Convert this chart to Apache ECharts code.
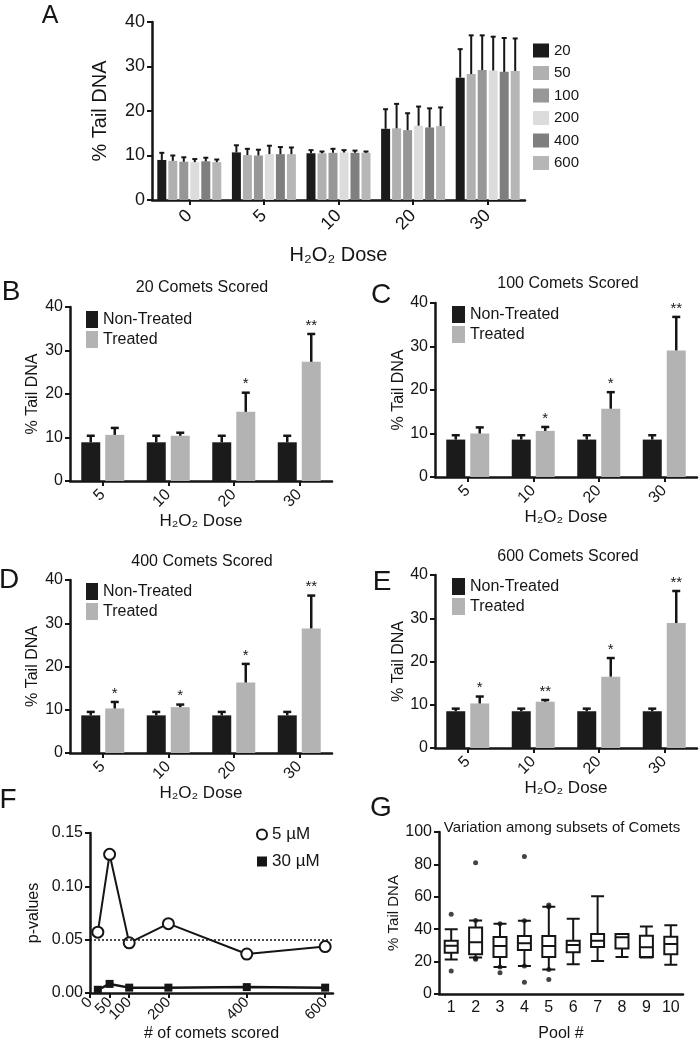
<!DOCTYPE html>
<html>
<head>
<meta charset="utf-8">
<script src="https://cdn.jsdelivr.net/npm/echarts@6/dist/echarts.min.js"></script>
<style>
html,body{margin:0;padding:0;background:#fff;}
#c{width:700px;height:1043px;}
</style>
</head>
<body>
<div id="c"></div>
<script>
// ---------------- DATA ----------------
// Panel A
const aDoses = ['0', '5', '10', '20', '30'];
const aCounts = ['20', '50', '100', '200', '400', '600'];
// mean % tail DNA, one row per number of comets scored (20,50,100,200,400,600)
const aMean = [
  [9.0, 10.7, 10.5, 16.0, 27.5],
  [8.8, 10.1, 10.5, 16.1, 28.3],
  [8.6, 10.0, 10.6, 15.7, 29.2],
  [8.5, 10.3, 10.7, 16.7, 29.1],
  [8.7, 10.3, 10.6, 16.3, 28.8],
  [8.5, 10.3, 10.6, 16.6, 29.0]
];
// top of error bar (mean + SD)
const aTop = [
  [10.6, 12.3, 11.2, 20.4, 33.9],
  [10.0, 11.5, 10.9, 21.6, 37.0],
  [9.6, 11.3, 11.5, 19.5, 37.0],
  [9.2, 12.2, 11.2, 21.0, 36.7],
  [9.5, 11.9, 11.1, 20.6, 36.4],
  [9.1, 11.8, 10.9, 20.8, 36.3]
];

// Panels B-E
const doses = ['5', '10', '20', '30'];
const bNt = [8.9, 8.9, 8.9, 8.9];
const bNtTop = [10.4, 10.4, 10.4, 10.4];
const bTr = [10.6, 10.4, 15.9, 27.4];
const bTrTop = [12.2, 11.1, 20.3, 33.8];
const bStars = ['', '', '*', '**'];

const cNt = [8.6, 8.6, 8.6, 8.6];
const cNtTop = [9.6, 9.6, 9.6, 9.6];
const cTr = [10.0, 10.6, 15.7, 29.1];
const cTrTop = [11.4, 11.5, 19.5, 36.8];
const cStars = ['', '*', '*', '**'];

const dNt = [8.7, 8.7, 8.7, 8.7];
const dNtTop = [9.5, 9.5, 9.5, 9.5];
const dTr = [10.3, 10.6, 16.3, 28.8];
const dTrTop = [11.8, 11.2, 20.6, 36.4];
const dStars = ['*', '*', '*', '**'];

const eNt = [8.5, 8.5, 8.5, 8.5];
const eNtTop = [9.1, 9.1, 9.1, 9.1];
const eTr = [10.3, 10.7, 16.5, 28.9];
const eTrTop = [11.9, 11.1, 20.8, 36.3];
const eStars = ['*', '**', '*', '**'];

// Panel F
const fCounts = [20, 50, 100, 200, 400, 600];
const fTicks = [0, 50, 100, 200, 400, 600];
const f5uM = [0.057, 0.130, 0.047, 0.065, 0.0365, 0.0435];
const f30uM = [0.003, 0.0085, 0.005, 0.005, 0.0055, 0.005];
const fThreshold = 0.05;

// Panel G
const gPools = ['1', '2', '3', '4', '5', '6', '7', '8', '9', '10'];
const gMin = [21.3, 22.5, 16.7, 17.3, 15.2, 18.3, 20.4, 22.9, 22.5, 18.1];
const gQ1  = [25.4, 24.6, 22.9, 27.1, 22.9, 25.8, 29.0, 28.1, 22.9, 24.6];
const gMed = [29.8, 31.9, 29.6, 31.3, 29.6, 30.2, 32.9, 35.0, 28.8, 30.8];
const gQ3  = [32.9, 41.0, 35.2, 35.8, 35.8, 32.9, 37.1, 37.1, 36.0, 35.4];
const gMax = [40.0, 45.4, 43.3, 45.2, 53.8, 46.5, 60.4, 37.1, 41.7, 42.5];
const gOutPool = [0, 0, 1, 1, 1, 1, 2, 2, 2, 3, 3, 3, 3, 4, 4, 4, 4];
const gOutVal  = [49.2, 14.2, 81.0, 45.4, 21.5, 22.0, 43.3, 16.7, 13.1, 84.8, 45.2, 17.3, 7.3, 55.0, 53.8, 15.2, 9.0];

// ---------------- STYLE ----------------
const FONT = '"Liberation Sans", Arial, Helvetica, sans-serif';
const INK = '#151515';
const aColors = ['#1b1b1b', '#b0b0b0', '#979797', '#dcdcdc', '#7f7f7f', '#b6b6b6'];
const NT_COLOR = '#1b1b1b';
const TR_COLOR = '#b3b3b3';
const DOSE_NAME = 'H\u2082O\u2082 Dose';

const axisLine = {show: true, onZero: false, lineStyle: {color: INK, width: 2.5}};
const axisTick = {show: true, length: 5, lineStyle: {color: INK, width: 2}};

function yAxis(gi, max, interval, fs, name, nameGap, nameFs, fmt) {
  return {
    type: 'value', gridIndex: gi, min: 0, max: max, interval: interval,
    axisLine: axisLine, axisTick: axisTick, splitLine: {show: false},
    axisLabel: {color: INK, fontSize: fs, fontFamily: FONT, margin: 7, formatter: fmt},
    name: name, nameLocation: 'middle', nameGap: nameGap,
    nameTextStyle: {color: INK, fontSize: nameFs, fontFamily: FONT}
  };
}
function xCat(gi, cats, fs, rotate, margin, name, nameGap, nameFs, showTick) {
  return {
    type: 'category', gridIndex: gi, data: cats,
    axisLine: axisLine,
    axisTick: showTick ? Object.assign({alignWithLabel: true}, axisTick) : {show: false},
    axisLabel: {color: INK, fontSize: fs, fontFamily: FONT, rotate: rotate, margin: margin},
    name: name, nameLocation: 'middle', nameGap: nameGap,
    nameTextStyle: {color: INK, fontSize: nameFs, fontFamily: FONT}
  };
}

// error bar series (upper SD only, GraphPad style), aligned to the grouped bars
function errSeries(axisIdx, means, tops, i, n, bw, gap, capW, lw, stars) {
  return {
    type: 'custom', xAxisIndex: axisIdx, yAxisIndex: axisIdx, z: 5, silent: true,
    data: means.map((m, k) => [k, m, tops[k]]),
    renderItem: function (params, api) {
      const k = api.value(0);
      const base = api.coord([k, api.value(1)]);
      const top = api.coord([k, api.value(2)]);
      const x = base[0] + (i - (n - 1) / 2) * (bw + gap);
      const children = [
        {type: 'line', shape: {x1: x, y1: base[1], x2: x, y2: top[1]}, style: {stroke: INK, lineWidth: lw}},
        {type: 'line', shape: {x1: x - capW / 2, y1: top[1], x2: x + capW / 2, y2: top[1]}, style: {stroke: INK, lineWidth: lw}}
      ];
      const s = stars ? stars[params.dataIndex] : '';
      if (s) {
        children.push({type: 'text', style: {text: s, x: x, y: top[1] - 1, align: 'center', verticalAlign: 'bottom',
          fontSize: 15, fontFamily: FONT, fill: INK}});
      }
      return {type: 'group', children: children};
    }
  };
}

const series = [];
// Panel A bars
const A_BW = 9, A_GAP = 2;
aCounts.forEach((c, i) => {
  series.push({
    type: 'bar', name: c, xAxisIndex: 0, yAxisIndex: 0, data: aMean[i],
    barWidth: A_BW, barGap: (A_GAP / A_BW * 100) + '%',
    itemStyle: {color: aColors[i]}, silent: true
  });
});
aCounts.forEach((c, i) => {
  series.push(errSeries(0, aMean[i], aTop[i], i, 6, A_BW, A_GAP, 5, 2, null));
});

// Panels B-E
const P_BW = 19, P_GAP = 5;
function panelSeries(ax, nt, ntTop, tr, trTop, stars) {
  series.push({type: 'bar', name: 'Non-Treated', xAxisIndex: ax, yAxisIndex: ax, data: nt,
    barWidth: P_BW, barGap: (P_GAP / P_BW * 100) + '%', itemStyle: {color: NT_COLOR}, silent: true});
  series.push({type: 'bar', name: 'Treated', xAxisIndex: ax, yAxisIndex: ax, data: tr,
    barWidth: P_BW, barGap: (P_GAP / P_BW * 100) + '%', itemStyle: {color: TR_COLOR}, silent: true});
  series.push(errSeries(ax, nt, ntTop, 0, 2, P_BW, P_GAP, 8, 2.5, null));
  series.push(errSeries(ax, tr, trTop, 1, 2, P_BW, P_GAP, 8, 2.5, stars));
}
panelSeries(1, bNt, bNtTop, bTr, bTrTop, bStars);
panelSeries(2, cNt, cNtTop, cTr, cTrTop, cStars);
panelSeries(3, dNt, dNtTop, dTr, dTrTop, dStars);
panelSeries(4, eNt, eNtTop, eTr, eTrTop, eStars);

// Panel F
series.push({
  type: 'line', name: '5 \u00b5M', xAxisIndex: 5, yAxisIndex: 5,
  data: fCounts.map((c, k) => [c, f5uM[k]]),
  symbol: 'circle', symbolSize: 11, z: 4,
  itemStyle: {color: '#ffffff', borderColor: INK, borderWidth: 2},
  lineStyle: {color: INK, width: 2},
  markLine: {silent: true, symbol: 'none', label: {show: false},
    lineStyle: {color: INK, width: 1.5, type: [2, 2]}, data: [{yAxis: fThreshold}]}
});
series.push({
  type: 'line', name: '30 \u00b5M', xAxisIndex: 5, yAxisIndex: 5,
  data: fCounts.map((c, k) => [c, f30uM[k]]),
  symbol: 'rect', symbolSize: 8, z: 4,
  itemStyle: {color: INK},
  lineStyle: {color: INK, width: 2.5}
});

// Panel G
series.push({
  type: 'boxplot', xAxisIndex: 6, yAxisIndex: 6, silent: true,
  data: gPools.map((p, k) => [gMin[k], gQ1[k], gMed[k], gQ3[k], gMax[k]]),
  boxWidth: [13, 13],
  itemStyle: {color: '#ffffff', borderColor: INK, borderWidth: 2}
});
series.push({
  type: 'scatter', xAxisIndex: 6, yAxisIndex: 6, silent: true,
  data: gOutPool.map((p, k) => [p, gOutVal[k]]),
  symbolSize: 5, itemStyle: {color: INK}, z: 5
});

function txt(text, x, y, fs) {
  return {type: 'text', x: x, y: y, silent: true,
    style: {text: text, fontSize: fs, fontFamily: FONT, fill: INK, align: 'center', verticalAlign: 'middle'}};
}

const legendText = (fs) => ({color: INK, fontSize: fs, fontFamily: FONT});

// F tick labels split over two overlapping axes so that neighbouring labels are never auto-hidden
const fLabelsMain = fTicks.filter((v, k) => k % 2 === 0 || k > 2);
const fLabelsAlt = fTicks.filter((v) => fLabelsMain.indexOf(v) < 0);

const option = {
  animation: false,
  backgroundColor: '#ffffff',
  grid: [
    {left: 152, top: 22, width: 373, height: 178},
    {left: 70, top: 307, width: 262, height: 174},
    {left: 435, top: 303, width: 262, height: 174},
    {left: 70, top: 580, width: 262, height: 173},
    {left: 435, top: 575, width: 262, height: 173},
    {left: 90, top: 833, width: 243, height: 164},
    {left: 439, top: 832, width: 244, height: 162}
  ],
  xAxis: [
    xCat(0, aDoses, 18, 45, 13, DOSE_NAME, 45, 20, true),
    xCat(1, doses, 16, 45, 11, DOSE_NAME, 31, 17, true),
    xCat(2, doses, 16, 45, 11, DOSE_NAME, 31, 17, true),
    xCat(3, doses, 16, 45, 11, DOSE_NAME, 31, 17, true),
    xCat(4, doses, 16, 45, 11, DOSE_NAME, 31, 17, true),
    {
      type: 'value', gridIndex: 5, min: 0, max: 620,
      axisLine: axisLine, splitLine: {show: false},
      axisTick: Object.assign({customValues: fTicks}, axisTick),
      axisLabel: {customValues: fLabelsMain, showMinLabel: true,
        color: INK, fontSize: 15, fontFamily: FONT, rotate: 45, margin: 7},
      name: '# of comets scored', nameLocation: 'middle', nameGap: 29,
      nameTextStyle: {color: INK, fontSize: 16, fontFamily: FONT}
    },
    xCat(6, gPools, 16, 0, 6, 'Pool #', 32, 16, false),
    {
      type: 'value', gridIndex: 5, min: 0, max: 620, position: 'bottom',
      axisLine: {show: false}, axisTick: {show: false}, splitLine: {show: false},
      axisLabel: {customValues: fLabelsAlt, color: INK, fontSize: 15, fontFamily: FONT, rotate: 45, margin: 7}
    }
  ],
  yAxis: [
    yAxis(0, 40, 10, 18, '% Tail DNA', 42, 20),
    yAxis(1, 40, 10, 16, '% Tail DNA', 29, 16),
    yAxis(2, 40, 10, 16, '% Tail DNA', 28, 16),
    yAxis(3, 40, 10, 16, '% Tail DNA', 29, 16),
    yAxis(4, 40, 10, 16, '% Tail DNA', 28, 16),
    yAxis(5, 0.15, 0.05, 16, 'p-values', 48, 16, (v) => v.toFixed(2)),
    yAxis(6, 100, 20, 16, '% Tail DNA', 33, 15)
  ],
  legend: [
    {data: aCounts, orient: 'vertical', left: 533, top: 43, padding: 0,
      itemWidth: 16, itemHeight: 14, itemGap: 7.5, icon: 'rect', textStyle: legendText(15), selectedMode: false},
    {data: ['Non-Treated', 'Treated'], orient: 'vertical', left: 86, top: 311, padding: 0,
      itemWidth: 12, itemHeight: 17, itemGap: 3, icon: 'rect', textStyle: legendText(16), selectedMode: false},
    {data: ['Non-Treated', 'Treated'], orient: 'vertical', left: 452, top: 306, padding: 0,
      itemWidth: 13, itemHeight: 17, itemGap: 3, icon: 'rect', textStyle: legendText(16), selectedMode: false},
    {data: ['Non-Treated', 'Treated'], orient: 'vertical', left: 86, top: 583, padding: 0,
      itemWidth: 12, itemHeight: 17, itemGap: 3, icon: 'rect', textStyle: legendText(16), selectedMode: false},
    {data: ['Non-Treated', 'Treated'], orient: 'vertical', left: 452, top: 578, padding: 0,
      itemWidth: 13, itemHeight: 17, itemGap: 3, icon: 'rect', textStyle: legendText(16), selectedMode: false},
    {data: [{name: '5 \u00b5M', icon: 'circle'}, {name: '30 \u00b5M', icon: 'rect'}],
      orient: 'vertical', left: 256, top: 826, padding: 0,
      itemWidth: 10, itemHeight: 10, itemGap: 10, textStyle: legendText(17), selectedMode: false}
  ],
  graphic: [
    txt('A', 50, 16, 25),
    txt('B', 11, 292, 28),
    txt('C', 381, 295, 28),
    txt('D', 9, 580, 28),
    txt('E', 382, 582, 28),
    txt('F', 8, 800, 28),
    txt('G', 381, 808, 28),
    txt('20 Comets Scored', 202, 288, 16),
    txt('100 Comets Scored', 568, 284, 16),
    txt('400 Comets Scored', 202, 562, 16),
    txt('600 Comets Scored', 568, 557, 16),
    txt('Variation among subsets of Comets', 562, 828, 15)
  ],
  series: series
};

const chart = echarts.init(document.getElementById('c'), null, {renderer: 'canvas'});
chart.setOption(option);
</script>
</body>
</html>
